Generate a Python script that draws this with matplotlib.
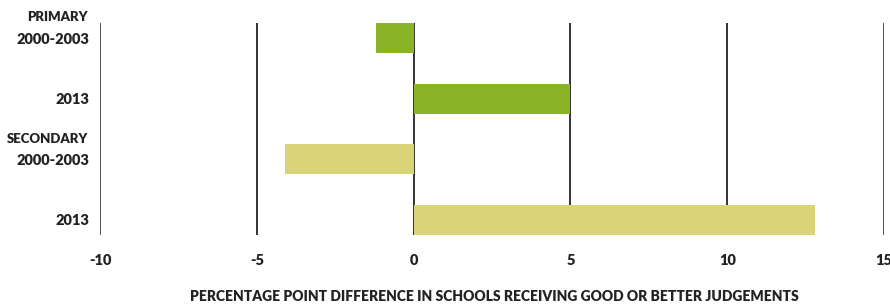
import matplotlib
matplotlib.use("Agg")
import matplotlib.pyplot as plt
from matplotlib.transforms import blended_transform_factory

groups = ["PRIMARY", "", "SECONDARY", ""]
periods = ["2000-2003", "2013", "2000-2003", "2013"]
values = [-1.2, 5.0, -4.1, 12.8]
colors = ["#8ab328", "#8ab328", "#d8d477", "#d8d477"]
xticks = [-10, -5, 0, 5, 10, 15]

plt.rcParams['font.family'] = ['Lato', 'DejaVu Sans']

fig = plt.figure(figsize=(8.9, 3.06), dpi=100)
ax = fig.add_axes([0.1124, 0.232, 0.881, 0.693])

ypos = list(range(len(values)))
for x in xticks:
    ax.axvline(x, color="#111111" if x not in (-10, 15) else "#333333", lw=1.2, zorder=1)
ax.barh(ypos, values, height=0.5, color=colors, zorder=2)

ax.set_xlim(-10, 15)
ax.set_ylim(3.25, -0.25)
ax.set_xticks(xticks)
ax.set_xticklabels([str(x) for x in xticks], fontsize=10.5, fontweight='heavy', color="#222222")
ax.set_yticks(ypos)
ax.set_yticklabels(periods, fontsize=10.5, fontweight='heavy', color="#222222")
ax.tick_params(length=0)
ax.tick_params(axis='y', pad=8)
ax.tick_params(axis='x', pad=14)
for s in ax.spines.values():
    s.set_visible(False)

tr = blended_transform_factory(fig.transFigure, ax.transData)
for y, g in zip(ypos, groups):
    if g:
        ax.text(88 / 890, y - 0.34, g, transform=tr, ha='right', va='center',
                fontsize=9.5, fontweight='heavy', color="#222222")

fig.text(0.555, 0.03, "PERCENTAGE POINT DIFFERENCE IN SCHOOLS RECEIVING GOOD OR BETTER JUDGEMENTS",
         ha='center', va='center', fontsize=10, fontweight='heavy', color="#222222")

fig.savefig("out.png", dpi=100)
